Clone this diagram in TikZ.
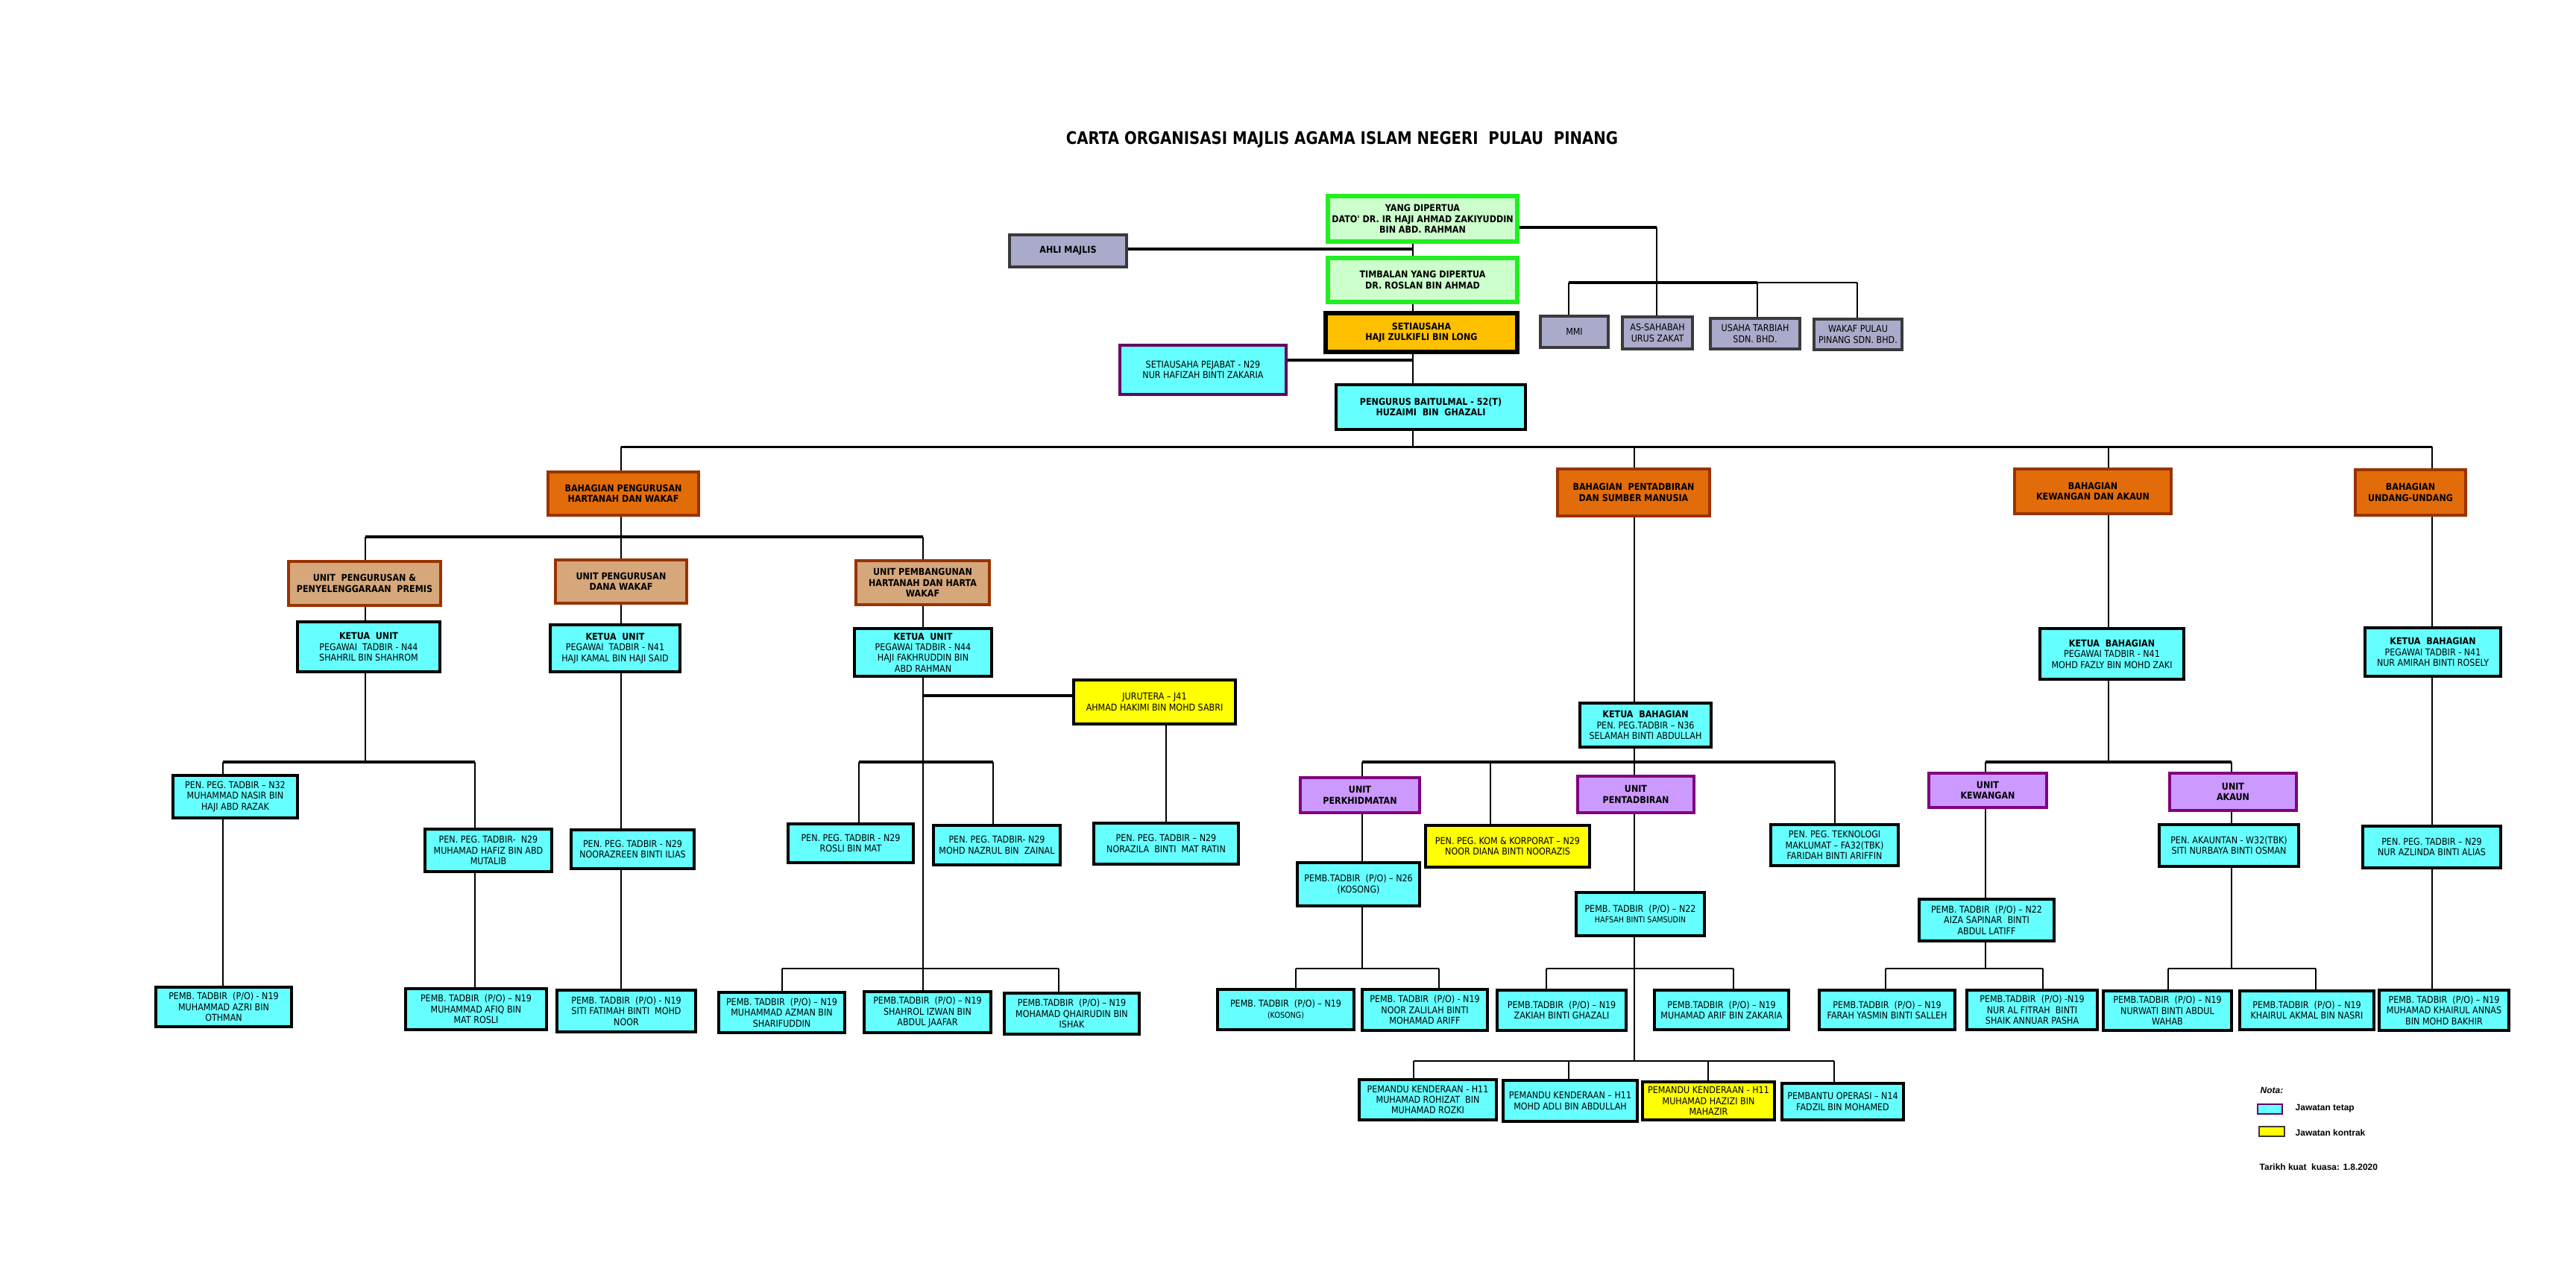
\documentclass[tikz,border=0pt]{standalone}
\usepackage{fontspec}
\usetikzlibrary{backgrounds}
\newfontfamily\bxf[FakeStretch=0.88]{DejaVu Sans}
\newfontfamily\ttlf[FakeStretch=0.85]{DejaVu Sans}
\newfontfamily\lgf{Liberation Sans}
\newcommand\boxfont{\bxf\fontsize{3.6}{4.1}\selectfont}
\definecolor{cyanc}{HTML}{66FFFF}
\definecolor{grnf}{HTML}{CCFFCC}
\definecolor{grnd}{HTML}{22EE22}
\definecolor{gryf}{HTML}{AAAACB}
\definecolor{gryd}{HTML}{3A3A3A}
\definecolor{setf}{HTML}{FFC000}
\definecolor{orgf}{HTML}{E36C0A}
\definecolor{orgd}{HTML}{993300}
\definecolor{tanf}{HTML}{D5A77B}
\definecolor{purf}{HTML}{CC99FF}
\definecolor{purd}{HTML}{800080}
\definecolor{spd}{HTML}{660066}
\definecolor{yelf}{HTML}{FFFF00}
\tikzset{
  bx/.style={draw, rectangle, inner sep=0pt, align=center, font=\boxfont},
  bxb/.style={bx, font=\boxfont\bfseries},
  sz/.style 2 args={minimum width=#1cm, minimum height=#2cm},
  cy/.style={bx, fill=cyanc, draw=black, line width=1.3pt},
  cyb/.style={cy, font=\boxfont\bfseries},
  cyp/.style={bx, fill=cyanc, draw=spd, line width=1.2pt},
  yel/.style={bx, fill=yelf, draw=black, line width=1.3pt},
  grn/.style={bxb, fill=grnf, draw=grnd, line width=1.5pt},
  gry/.style={bx, fill=gryf, draw=gryd, line width=1.2pt},
  setb/.style={bxb, fill=setf, draw=black, line width=1.5pt},
  org/.style={bxb, fill=orgf, draw=orgd, line width=1.2pt},
  tanbox/.style={bxb, fill=tanf, draw=orgd, line width=1.2pt},
  pur/.style={bxb, fill=purf, draw=purd, line width=1.3pt},
  wire/.style={draw=black, line width=0.65pt},
  bar/.style={draw=black, line width=1.1pt},
}
\begin{document}
\begin{tikzpicture}[x=1cm, y=-1cm]
\useasboundingbox (0,0) rectangle (34.55,17.06);

% title
\node[font=\ttlf\bfseries\fontsize{6.6}{7}\selectfont, inner sep=0pt] (title) at (18.00,1.87) {CARTA ORGANISASI MAJLIS AGAMA ISLAM NEGERI \ PULAU \ PINANG};

% top
\node[grn, sz={2.54}{0.61}] (ydp) at (19.08,2.935) {YANG DIPERTUA\\DATO' DR. IR HAJI AHMAD ZAKIYUDDIN\\BIN ABD. RAHMAN};
\node[gry, font=\boxfont\bfseries, sz={1.57}{0.43}] (ahli) at (14.325,3.365) {AHLI MAJLIS};
\node[grn, sz={2.54}{0.59}] (tim) at (19.08,3.755) {TIMBALAN YANG DIPERTUA\\DR. ROSLAN BIN AHMAD};
\node[setb, sz={2.57}{0.52}] (set) at (19.065,4.46) {SETIAUSAHA\\HAJI ZULKIFLI BIN LONG};
\node[cyp, sz={2.23}{0.66}] (sp) at (16.135,4.96) {SETIAUSAHA PEJABAT - N29\\NUR HAFIZAH BINTI ZAKARIA};
\node[cyb, sz={2.54}{0.60}] (bm) at (19.19,5.46) {PENGURUS BAITULMAL - 52(T)\\HUZAIMI \ BIN \ GHAZALI};
\node[gry, sz={0.91}{0.42}] (mmi) at (21.115,4.45) {MMI};
\node[gry, sz={0.94}{0.43}] (ass) at (22.23,4.465) {AS-SAHABAH\\URUS ZAKAT};
\node[gry, sz={1.20}{0.41}] (uta) at (23.54,4.475) {USAHA TARBIAH\\SDN. BHD.};
\node[gry, sz={1.18}{0.41}] (wpp) at (24.92,4.485) {WAKAF PULAU\\PINANG SDN. BHD.};

% bahagian
\node[org, sz={2.02}{0.58}] (bhw) at (8.36,6.62) {BAHAGIAN PENGURUSAN\\HARTANAH DAN WAKAF};
\node[org, sz={2.04}{0.63}] (bps) at (21.91,6.605) {BAHAGIAN \ PENTADBIRAN\\DAN SUMBER MANUSIA};
\node[org, sz={2.10}{0.60}] (bka) at (28.07,6.59) {BAHAGIAN\\KEWANGAN DAN AKAUN};
\node[org, sz={1.48}{0.61}] (buu) at (32.33,6.605) {BAHAGIAN\\UNDANG-UNDANG};

% hartanah
\node[tanbox, sz={2.04}{0.59}] (upp) at (4.89,7.825) {UNIT \ PENGURUSAN \&\\PENYELENGGARAAN \ PREMIS};
\node[tanbox, sz={1.76}{0.58}] (udw) at (8.33,7.80) {UNIT PENGURUSAN\\DANA WAKAF};
\node[tanbox, sz={1.79}{0.59}] (uph) at (12.375,7.815) {UNIT PEMBANGUNAN\\HARTANAH DAN HARTA\\WAKAF};
\node[cy, sz={1.91}{0.67}] (ku1) at (4.945,8.675) {\textbf{KETUA \ UNIT}\\PEGAWAI \ TADBIR - N44\\SHAHRIL BIN SHAHROM};
\node[cy, sz={1.74}{0.63}] (ku2) at (8.25,8.695) {\textbf{KETUA \ UNIT}\\PEGAWAI \ TADBIR - N41\\HAJI KAMAL BIN HAJI SAID};
\node[cy, sz={1.84}{0.64}] (ku3) at (12.38,8.75) {\textbf{KETUA \ UNIT}\\PEGAWAI TADBIR - N44\\HAJI FAKHRUDDIN BIN\\ABD RAHMAN};
\node[yel, sz={2.17}{0.59}] (jur) at (15.485,9.415) {JURUTERA – J41\\AHMAD HAKIMI BIN MOHD SABRI};
\node[cy, sz={1.67}{0.57}] (n32) at (3.155,10.685) {PEN. PEG. TADBIR – N32\\MUHAMMAD NASIR BIN\\HAJI ABD RAZAK};
\node[cy, sz={1.70}{0.57}] (hafiz) at (6.55,11.405) {PEN. PEG. TADBIR- \ N29\\MUHAMAD HAFIZ BIN ABD\\MUTALIB};
\node[cy, sz={1.65}{0.52}] (nzr) at (8.485,11.39) {PEN. PEG. TADBIR - N29\\NOORAZREEN BINTI ILIAS};
\node[cy, sz={1.68}{0.52}] (rosli) at (11.41,11.31) {PEN. PEG. TADBIR - N29\\ROSLI BIN MAT};
\node[cy, sz={1.70}{0.53}] (nazrul) at (13.37,11.335) {PEN. PEG. TADBIR- N29\\MOHD NAZRUL BIN \ ZAINAL};
\node[cy, sz={1.94}{0.55}] (norazila) at (15.64,11.315) {PEN. PEG. TADBIR – N29\\NORAZILA \ BINTI \ MAT RATIN};
\node[cy, sz={1.82}{0.53}] (azri) at (3.00,13.505) {PEMB. TADBIR \ (P/O) - N19\\MUHAMMAD AZRI BIN\\OTHMAN};
\node[cy, sz={1.89}{0.55}] (afiq) at (6.385,13.535) {PEMB. TADBIR \ (P/O) – N19\\MUHAMMAD AFIQ BIN\\MAT ROSLI};
\node[cy, sz={1.86}{0.56}] (siti) at (8.40,13.56) {PEMB. TADBIR \ (P/O) - N19\\SITI FATIMAH BINTI \ MOHD\\NOOR};
\node[cy, sz={1.69}{0.54}] (azman) at (10.485,13.58) {PEMB. TADBIR \ (P/O) – N19\\MUHAMMAD AZMAN BIN\\SHARIFUDDIN};
\node[cy, sz={1.70}{0.55}] (shahrol) at (12.44,13.575) {PEMB.TADBIR \ (P/O) – N19\\SHAHROL IZWAN BIN\\ABDUL JAAFAR};
\node[cy, sz={1.81}{0.55}] (qhai) at (14.375,13.595) {PEMB.TADBIR \ (P/O) – N19\\MOHAMAD QHAIRUDIN BIN\\ISHAK};

% pentadbiran
\node[cy, sz={1.76}{0.59}] (kb1) at (22.07,9.725) {\textbf{KETUA \ BAHAGIAN}\\PEN. PEG.TADBIR – N36\\SELAMAH BINTI ABDULLAH};
\node[pur, sz={1.60}{0.47}] (uperk) at (18.24,10.665) {UNIT\\PERKHIDMATAN};
\node[pur, sz={1.56}{0.49}] (upent) at (21.94,10.655) {UNIT\\PENTADBIRAN};
\node[yel, sz={2.20}{0.56}] (kom) at (20.22,11.35) {PEN. PEG. KOM \& KORPORAT – N29\\NOOR DIANA BINTI NOORAZIS};
\node[cy, sz={1.71}{0.55}] (tek) at (24.605,11.335) {PEN. PEG. TEKNOLOGI\\MAKLUMAT – FA32(TBK)\\FARIDAH BINTI ARIFFIN};
\node[cy, sz={1.64}{0.58}] (n26) at (18.22,11.86) {PEMB.TADBIR \ (P/O) – N26\\(KOSONG)};
\node[cy, sz={1.83}{0.54}] (kos19) at (17.245,13.54) {PEMB. TADBIR \ (P/O) – N19\\{\fontsize{3.1}{4.1}\selectfont (KOSONG)}};
\node[cy, sz={1.68}{0.55}] (zal) at (19.11,13.545) {PEMB. TADBIR \ (P/O) - N19\\NOOR ZALILAH BINTI\\MOHAMAD ARIFF};
\node[cy, sz={1.72}{0.58}] (hafsah) at (22.00,12.26) {PEMB. TADBIR \ (P/O) – N22\\{\fontsize{3.1}{4.1}\selectfont HAFSAH BINTI SAMSUDIN}};
\node[cy, sz={1.73}{0.54}] (zakiah) at (20.945,13.55) {PEMB.TADBIR \ (P/O) – N19\\ZAKIAH BINTI GHAZALI};
\node[cy, sz={1.80}{0.53}] (arif) at (23.09,13.545) {PEMB.TADBIR \ (P/O) – N19\\MUHAMAD ARIF BIN ZAKARIA};
\node[cy, sz={1.84}{0.54}] (rohizat) at (19.15,14.75) {PEMANDU KENDERAAN - H11\\MUHAMAD ROHIZAT \ BIN\\MUHAMAD ROZKI};
\node[cy, sz={1.80}{0.55}] (adli) at (21.06,14.765) {PEMANDU KENDERAAN – H11\\MOHD ADLI BIN ABDULLAH};
\node[yel, sz={1.77}{0.51}] (hazizi) at (22.915,14.765) {PEMANDU KENDERAAN - H11\\MUHAMAD HAZIZI BIN\\MAHAZIR};
\node[cy, sz={1.63}{0.49}] (fadzil) at (24.715,14.775) {PEMBANTU OPERASI – N14\\FADZIL BIN MOHAMED};

% kewangan
\node[cy, sz={1.93}{0.68}] (kb2) at (28.325,8.77) {\textbf{KETUA \ BAHAGIAN}\\PEGAWAI TADBIR - N41\\MOHD FAZLY BIN MOHD ZAKI};
\node[pur, sz={1.58}{0.46}] (ukew) at (26.66,10.60) {UNIT\\KEWANGAN};
\node[pur, sz={1.70}{0.50}] (uak) at (29.95,10.62) {UNIT\\AKAUN};
\node[cy, sz={1.87}{0.56}] (akt) at (29.895,11.34) {PEN. AKAUNTAN - W32(TBK)\\SITI NURBAYA BINTI OSMAN};
\node[cy, sz={1.81}{0.56}] (aiza) at (26.645,12.34) {PEMB. TADBIR \ (P/O) – N22\\AIZA SAPINAR \ BINTI\\ABDUL LATIFF};
\node[cy, sz={1.82}{0.53}] (farah) at (25.31,13.545) {PEMB.TADBIR \ (P/O) – N19\\FARAH YASMIN BINTI SALLEH};
\node[cy, sz={1.75}{0.53}] (fitrah) at (27.255,13.545) {PEMB.TADBIR \ (P/O) -N19\\NUR AL FITRAH \ BINTI\\SHAIK ANNUAR PASHA};
\node[cy, sz={1.72}{0.53}] (nurwati) at (29.07,13.555) {PEMB.TADBIR \ (P/O) – N19\\NURWATI BINTI ABDUL\\WAHAB};
\node[cy, sz={1.80}{0.52}] (akmal) at (30.94,13.55) {PEMB.TADBIR \ (P/O) – N19\\KHAIRUL AKMAL BIN NASRI};

% undang
\node[cy, sz={1.82}{0.65}] (kb3) at (32.63,8.745) {\textbf{KETUA \ BAHAGIAN}\\PEGAWAI TADBIR - N41\\NUR AMIRAH BINTI ROSELY};
\node[cy, sz={1.85}{0.56}] (azlinda) at (32.615,11.36) {PEN. PEG. TADBIR – N29\\NUR AZLINDA BINTI ALIAS};
\node[cy, sz={1.74}{0.54}] (annas) at (32.78,13.55) {PEMB. TADBIR \ (P/O) – N19\\MUHAMAD KHAIRUL ANNAS\\BIN MOHD BAKHIR};

% legend
\node[anchor=west, inner sep=0pt, font=\lgf\bfseries\itshape\fontsize{3.4}{4}\selectfont] (nota) at (30.31,14.62) {Nota:};
\node[draw=spd, fill=cyanc, line width=0.6pt, minimum width=0.33cm, minimum height=0.13cm, inner sep=0pt] (sw1) at (30.445,14.875) {};
\node[anchor=west, inner sep=0pt, font=\lgf\bfseries\fontsize{3.4}{4}\selectfont] (lg1) at (30.78,14.87) {Jawatan tetap};
\node[draw=gryd, fill=yelf, line width=0.6pt, minimum width=0.34cm, minimum height=0.13cm, inner sep=0pt] (sw2) at (30.47,15.175) {};
\node[anchor=west, inner sep=0pt, font=\lgf\bfseries\fontsize{3.4}{4}\selectfont] (lg2) at (30.78,15.19) {Jawatan kontrak};
\node[anchor=west, inner sep=0pt, font=\lgf\bfseries\fontsize{3.4}{4}\selectfont] (tarikh) at (30.30,15.65) {Tarikh kuat \ kuasa: 1.8.2020};

% coordinates
\coordinate (xsp) at (18.95,0);
\coordinate (xmm) at (21.04,0);
\coordinate (xas) at (22.22,0);
\coordinate (xut) at (23.57,0);
\coordinate (xwp) at (24.91,0);
\coordinate (yr) at (0,3.05);
\coordinate (ysub) at (0,3.79);
\coordinate (yah) at (0,3.34);
\coordinate (ysp) at (0,4.83);
\coordinate (yb1) at (0,5.99);
\coordinate (yb2) at (0,7.20);
\coordinate (yj) at (0,9.33);
\coordinate (yb3) at (0,10.22);
\coordinate (yb4) at (0,12.99);
\coordinate (yb5) at (0,14.23);
\coordinate (xh) at (8.33,0);
\coordinate (xpt) at (21.92,0);
\coordinate (xka) at (28.28,0);
\coordinate (xuu) at (32.62,0);
\coordinate (xpr) at (4.90,0);
\coordinate (xpb) at (12.38,0);
\coordinate (xp3) at (2.99,0);
\coordinate (xp6) at (6.37,0);
\coordinate (xjr) at (15.64,0);
\coordinate (xro) at (11.52,0);
\coordinate (xnz) at (13.32,0);
\coordinate (xaz) at (10.49,0);
\coordinate (xqh) at (14.20,0);
\coordinate (xpk) at (18.27,0);
\coordinate (xkm) at (19.99,0);
\coordinate (xtk) at (24.61,0);
\coordinate (xk19) at (17.38,0);
\coordinate (xzl) at (19.30,0);
\coordinate (xzk) at (20.74,0);
\coordinate (xar) at (23.25,0);
\coordinate (xro2) at (18.96,0);
\coordinate (xad) at (21.04,0);
\coordinate (xhz) at (22.91,0);
\coordinate (xfd) at (24.60,0);
\coordinate (xkw) at (26.63,0);
\coordinate (xak) at (29.93,0);
\coordinate (xfr) at (25.29,0);
\coordinate (xft) at (27.40,0);
\coordinate (xnw) at (29.08,0);
\coordinate (xam) at (31.06,0);

\begin{pgfonlayer}{background}
\fill[white] (0,0) rectangle (34.55,17.06);
% top spine
\draw[wire] (ydp.south -| xsp) -- (xsp |- yb1);
\draw[bar] (ahli.east |- yah) -- (xsp |- yah);
\draw[bar] (sp.east |- ysp) -- (xsp |- ysp);
\draw[bar] (ydp.east |- yr) -- (xas |- yr);
\draw[wire] (xas |- yr) -- (ass.north -| xas);
\draw[bar] (xmm |- ysub) -- (xut |- ysub);
\draw[wire] (xut |- ysub) -- (xwp |- ysub);
\draw[wire] (xmm |- ysub) -- (mmi.north -| xmm);
\draw[wire] (xut |- ysub) -- (uta.north -| xut);
\draw[wire] (xwp |- ysub) -- (wpp.north -| xwp);
% main bus
\draw[draw=black, line width=0.85pt] (xh |- yb1) -- (xuu |- yb1);
% hartanah
\draw[wire] (xh |- yb1) -- (siti.north -| xh);
\draw[bar] (xpr |- yb2) -- (xpb |- yb2);
\draw[wire] (xpr |- yb2) -- (xpr |- yb3);
\draw[bar] (xp3 |- yb3) -- (xp6 |- yb3);
\draw[wire] (xp3 |- yb3) -- (azri.north -| xp3);
\draw[wire] (xp6 |- yb3) -- (afiq.north -| xp6);
\draw[wire] (xpb |- yb2) -- (shahrol.north -| xpb);
\draw[bar] (xpb |- yj) -- (jur.west |- yj);
\draw[wire] (jur.south -| xjr) -- (norazila.north -| xjr);
\draw[bar] (xro |- yb3) -- (xnz |- yb3);
\draw[wire] (xro |- yb3) -- (rosli.north -| xro);
\draw[wire] (xnz |- yb3) -- (nazrul.north -| xnz);
\draw[wire] (xaz |- yb4) -- (xqh |- yb4);
\draw[wire] (xaz |- yb4) -- (azman.north -| xaz);
\draw[wire] (xqh |- yb4) -- (qhai.north -| xqh);
% pentadbiran
\draw[wire] (xpt |- yb1) -- (xpt |- yb5);
\draw[bar] (xpk |- yb3) -- (xtk |- yb3);
\draw[wire] (xpk |- yb3) -- (xpk |- yb4);
\draw[wire] (xkm |- yb3) -- (kom.north -| xkm);
\draw[wire] (xtk |- yb3) -- (tek.north -| xtk);
\draw[wire] (xk19 |- yb4) -- (xzl |- yb4);
\draw[wire] (xk19 |- yb4) -- (kos19.north -| xk19);
\draw[wire] (xzl |- yb4) -- (zal.north -| xzl);
\draw[wire] (xzk |- yb4) -- (xar |- yb4);
\draw[wire] (xzk |- yb4) -- (zakiah.north -| xzk);
\draw[wire] (xar |- yb4) -- (arif.north -| xar);
\draw[wire] (xro2 |- yb5) -- (xfd |- yb5);
\draw[wire] (xro2 |- yb5) -- (rohizat.north -| xro2);
\draw[wire] (xad |- yb5) -- (adli.north -| xad);
\draw[wire] (xhz |- yb5) -- (hazizi.north -| xhz);
\draw[wire] (xfd |- yb5) -- (fadzil.north -| xfd);
% kewangan
\draw[wire] (xka |- yb1) -- (xka |- yb3);
\draw[bar] (xkw |- yb3) -- (xak |- yb3);
\draw[wire] (xkw |- yb3) -- (xkw |- yb4);
\draw[wire] (xak |- yb3) -- (xak |- yb4);
\draw[wire] (xfr |- yb4) -- (xft |- yb4);
\draw[wire] (xfr |- yb4) -- (farah.north -| xfr);
\draw[wire] (xft |- yb4) -- (fitrah.north -| xft);
\draw[wire] (xnw |- yb4) -- (xam |- yb4);
\draw[wire] (xnw |- yb4) -- (nurwati.north -| xnw);
\draw[wire] (xam |- yb4) -- (akmal.north -| xam);
% undang
\draw[wire] (xuu |- yb1) -- (annas.north -| xuu);
\end{pgfonlayer}
\end{tikzpicture}
\end{document}
